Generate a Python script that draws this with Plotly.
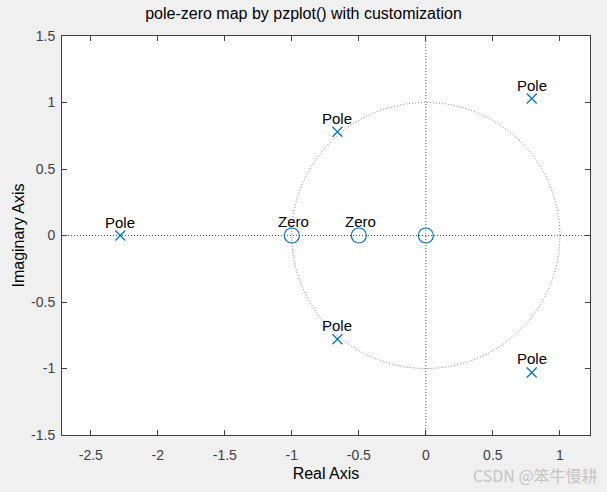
import plotly.graph_objects as go

pole_re = [-2.28, -0.66, -0.66, 0.79, 0.79]
pole_im = [0.0, 0.78, -0.78, 1.03, -1.03]
zero_re = [-1.0, -0.5, 0.0]
zero_im = [0.0, 0.0, 0.0]
labelled_zeros = [-1.0, -0.5]

x_ticks = [-2.5, -2, -1.5, -1, -0.5, 0, 0.5, 1]
y_ticks = [-1.5, -1, -0.5, 0, 0.5, 1, 1.5]

blue = "#0072BD"

fig = go.Figure()

fig.add_trace(go.Scatter(
    x=pole_re, y=pole_im, mode="markers",
    marker=dict(symbol="x-thin-open", size=10, line=dict(color=blue, width=1.2), color=blue),
    showlegend=False, hoverinfo="x+y"
))
fig.add_trace(go.Scatter(
    x=zero_re, y=zero_im, mode="markers",
    marker=dict(symbol="circle-open", size=15, line=dict(color=blue, width=1.2), color=blue),
    showlegend=False, hoverinfo="x+y"
))

# unit circle and axis lines (dotted)
fig.add_shape(type="circle", x0=-1, y0=-1, x1=1, y1=1, xref="x", yref="y",
              line=dict(color="#777777", width=1, dash="1px,2px"), layer="below")
fig.add_shape(type="line", x0=0, x1=0, y0=-1.5, y1=1.5, xref="x", yref="y",
              line=dict(color="#555555", width=1, dash="1px,2px"), layer="below")
fig.add_shape(type="line", x0=-2.715, x1=1.225, y0=0, y1=0, xref="x", yref="y",
              line=dict(color="#555555", width=1, dash="1px,2px"), layer="below")

for xr, yi in zip(pole_re, pole_im):
    fig.add_annotation(x=xr, y=yi, text="Pole", showarrow=False, yanchor="bottom",
                       yshift=3, font=dict(size=15, color="black"))
for xr in labelled_zeros:
    fig.add_annotation(x=xr, y=0, text="Zero", showarrow=False, yanchor="bottom",
                       yshift=4, xshift=2, font=dict(size=15, color="black"))

fig.add_annotation(x=1.0, y=0.0, xref="paper", yref="paper", xanchor="right", yanchor="top",
                   xshift=10, yshift=-26, text="CSDN @笨牛慢耕", showarrow=False,
                   font=dict(size=16, color="#c4c4c4", family="Noto Sans CJK SC"))

axis_style = dict(
    showgrid=False, zeroline=False, showline=True, mirror="ticks",
    linecolor="#404040", linewidth=1, ticks="inside", ticklen=5, tickcolor="#404040",
    tickfont=dict(size=14, color="#404040"),
)

fig.update_layout(
    width=607, height=492,
    paper_bgcolor="#f0f0f0", plot_bgcolor="white",
    font=dict(family="Liberation Sans, Arial", color="black"),
    margin=dict(l=62, r=17, t=36, b=55),
    title=dict(text="pole-zero map by pzplot() with customization", x=0.5, xanchor="center",
               y=0.985, yanchor="top", font=dict(size=16, color="black")),
    xaxis=dict(range=[-2.715, 1.225], tickvals=x_ticks,
               ticktext=[f"{v:g}" for v in x_ticks], ticklabelstandoff=7,
               title=dict(text="Real Axis", font=dict(size=16), standoff=6), **axis_style),
    yaxis=dict(range=[-1.5, 1.5], tickvals=y_ticks,
               ticktext=[f"{v:g}" for v in y_ticks], ticklabelstandoff=3,
               title=dict(text="Imaginary Axis", font=dict(size=16), standoff=2), **axis_style),
)

fig.write_html("out.html", config={"displayModeBar": False},
               post_script="document.body.style.margin='0';document.body.style.background='#f0f0f0';")
